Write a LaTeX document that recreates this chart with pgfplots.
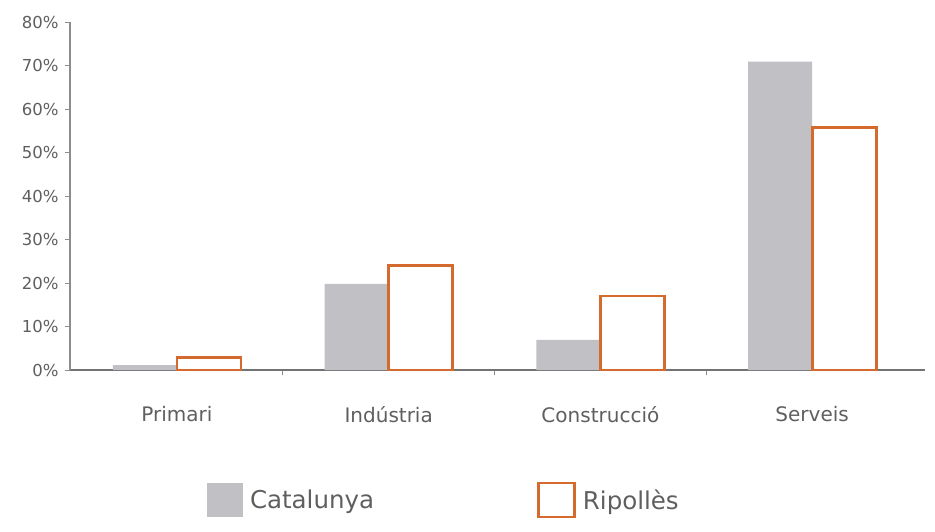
\documentclass[border=0pt]{standalone}
\usepackage{fontspec}
\setmainfont{DejaVu Sans}
\usepackage{pgfplots}
\pgfplotsset{compat=1.18}

\definecolor{catgrey}{RGB}{192,192,197}
\definecolor{riporange}{RGB}{212,106,46}
\definecolor{txtgrey}{RGB}{95,95,95}
\definecolor{axgrey}{RGB}{140,140,145}

\begin{document}
\begin{tikzpicture}[x=1pt,y=1pt]
\useasboundingbox (-70,-161) rectangle (865,370);
\begin{axis}[
    at={(0,0)}, anchor=south west,
    scale only axis,
    width=855pt, height=348pt,
    ybar=0pt, bar width=64pt,
    xmin=-0.505, xmax=3.533,
    ymin=0, ymax=80,
    axis x line*=bottom, axis y line*=left,
    y axis line style={axgrey, line width=1.2pt},
    x axis line style={black!55, line width=1.4pt},
    xtick={0,1,2,3},
    xticklabels={Primari, Indústria, Construcció, Serveis},
    major x tick style={draw=none},
    minor xtick={0.5,1.5,2.5},
    minor tick length=5pt,
    minor x tick style={axgrey, line width=0.8pt},
    ytick={0,10,...,80},
    yticklabels={0\%,10\%,20\%,30\%,40\%,50\%,60\%,70\%,80\%},
    y tick style={axgrey, line width=0.8pt},
    tick align=outside,
    major tick length=5pt,
    x tick label style={font=\fontsize{20}{23}\selectfont, text=txtgrey, yshift=-28pt},
    y tick label style={font=\fontsize{16.5}{19}\selectfont, text=txtgrey, xshift=-3pt},
    legend style={
        at={(0.160,-0.3736)}, anchor=west,
        draw=none, fill=none, inner xsep=0pt,
        legend columns=2,
        font=\fontsize{24.5}{28}\selectfont, text=txtgrey,
        /tikz/every odd column/.append style={column sep=5pt},
        /tikz/every even column/.append style={column sep=161pt},
    },
    legend image code/.code={\path[#1] (0pt,-17pt) rectangle (36pt,17pt);},
]
\addplot[fill=catgrey, draw=none] coordinates {(0,1.1) (1,19.8) (2,6.9) (3,70.9)};
\addlegendentry{Catalunya}
\addplot[fill=white, draw=riporange, line width=2.8pt] coordinates {(0,2.9) (1,24.1) (2,17.0) (3,55.8)};
\addlegendentry{Ripollès}
\end{axis}
\end{tikzpicture}
\end{document}
